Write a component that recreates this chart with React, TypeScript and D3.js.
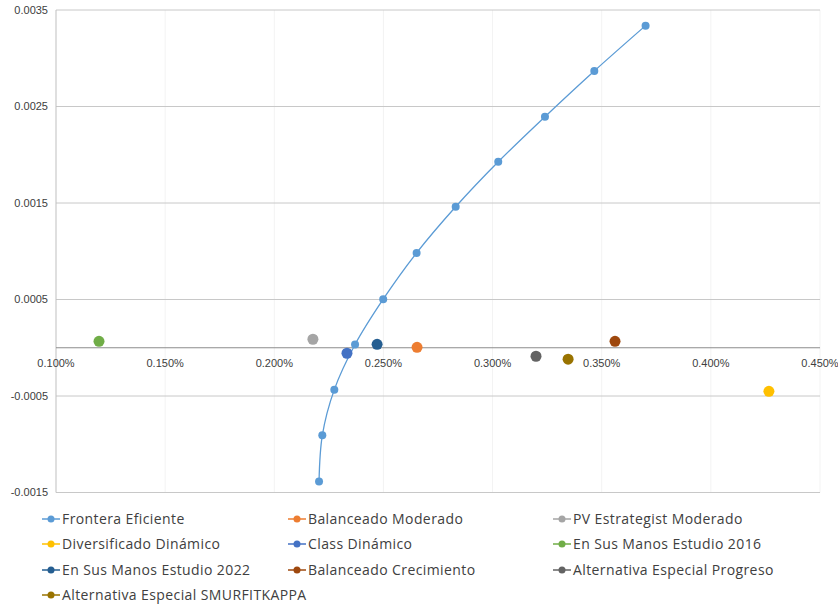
import React from "react";
import * as d3 from "d3";

const frontierX = [0.002205, 0.00222, 0.002275, 0.00237, 0.002499, 0.002652, 0.002831, 0.003026, 0.00324, 0.003466, 0.003701];
const frontierY = [-0.001385, -0.000908, -0.000434, 0.000033, 0.000503, 0.000983, 0.001461, 0.001927, 0.002394, 0.002868, 0.003338];

const fundNames = [
  "Balanceado Moderado",
  "PV Estrategist Moderado",
  "Diversificado Dinámico",
  "Class Dinámico",
  "En Sus Manos Estudio 2016",
  "En Sus Manos Estudio 2022",
  "Balanceado Crecimiento",
  "Alternativa Especial Progreso",
  "Alternativa Especial SMURFITKAPPA",
];
const fundX = [0.002654, 0.002177, 0.004266, 0.002333, 0.001197, 0.002471, 0.003561, 0.003199, 0.003346];
const fundY = [0.000005, 0.000088, -0.000451, -0.000057, 0.000067, 0.000036, 0.000067, -0.000088, -0.000119];
const fundColors = ["#ed7d31", "#a5a5a5", "#ffc000", "#4472c4", "#70ad47", "#255e91", "#9e480e", "#636363", "#997300"];

const frontierName = "Frontera Eficiente";
const frontierColor = "#5b9bd5";

const yTicks = [-0.0015, -0.0005, 0.0005, 0.0015, 0.0025, 0.0035];
const xTicks = [0.001, 0.0015, 0.002, 0.0025, 0.003, 0.0035, 0.004, 0.0045];

const W = 838;
const H = 607;

export default function App() {
  const x = d3.scaleLinear().domain([0.001, 0.0045]).range([56, 820]);
  const y = d3.scaleLinear().domain([-0.0015, 0.0035]).range([492.5, 10]);
  const fmtX = d3.format(".3%");
  const fmtY = (v: number) => (Math.round(v * 10000) / 10000).toString();

  const pts: [number, number][] = frontierX.map((v, i) => [v, frontierY[i]]);
  const line = d3
    .line<[number, number]>()
    .x((d) => x(d[0]))
    .y((d) => y(d[1]))
    .curve(d3.curveCatmullRom.alpha(0.5));

  const legendItems = [{ name: frontierName, color: frontierColor }].concat(
    fundNames.map((n, i) => ({ name: n, color: fundColors[i] }))
  );
  const colX = [42, 288, 553];
  const rowY = [519, 544, 570, 595];

  const tickFont = "'Liberation Sans Narrow', sans-serif";
  const legendFont = "'Open Sans', sans-serif";

  return (
    <svg
      width={W}
      height={H}
      style={{ position: "absolute", left: 0, top: 0, background: "#fff" }}
    >
      <rect x={0} y={0} width={W} height={H} fill="#fff" />
      {xTicks.slice(1).map((t) => (
        <line key={"vx" + t} x1={x(t)} x2={x(t)} y1={y(0.0035)} y2={y(-0.0015)} stroke="#f3f3f3" strokeWidth={1} />
      ))}
      {yTicks.map((t) => (
        <line key={"gy" + t} x1={x(0.001)} x2={x(0.0045)} y1={y(t)} y2={y(t)} stroke="#c8c8c8" strokeWidth={1} />
      ))}
      <line x1={x(0.001)} x2={x(0.001)} y1={y(0.0035)} y2={y(-0.0015)} stroke="#bfbfbf" strokeWidth={1} />
      <line x1={x(0.001)} x2={x(0.0045)} y1={y(0)} y2={y(0)} stroke="#8c8c8c" strokeWidth={1} />
      {yTicks.map((t) => (
        <text key={"ly" + t} x={48} y={y(t)} dy="0.35em" textAnchor="end" fontSize={11} fill="#404040" fontFamily={tickFont}>
          {fmtY(t)}
        </text>
      ))}
      {xTicks.map((t) => (
        <text key={"lx" + t} x={x(t)} y={y(0) + 15} dy="0.35em" textAnchor="middle" fontSize={11} fill="#404040" fontFamily={tickFont}>
          {fmtX(t)}
        </text>
      ))}
      <path d={line(pts) || ""} fill="none" stroke={frontierColor} strokeWidth={1.3} />
      {pts.map((p, i) => (
        <circle key={"f" + i} cx={x(p[0])} cy={y(p[1])} r={4} fill={frontierColor} />
      ))}
      {fundX.map((v, i) => (
        <circle key={"p" + i} cx={x(v)} cy={y(fundY[i])} r={5.5} fill={fundColors[i]} />
      ))}
      {legendItems.map((it, i) => {
        const cx = colX[i % 3];
        const cy = rowY[Math.floor(i / 3)];
        return (
          <g key={"lg" + i}>
            <line x1={cx} x2={cx + 18} y1={cy} y2={cy} stroke={it.color} strokeWidth={1.5} />
            <circle cx={cx + 9} cy={cy} r={3.5} fill={it.color} />
            <text x={cx + 20} y={cy} dy="0.35em" fontSize={14} letterSpacing={0.4} fill="#404040" fontFamily={legendFont}>
              {it.name}
            </text>
          </g>
        );
      })}
    </svg>
  );
}
